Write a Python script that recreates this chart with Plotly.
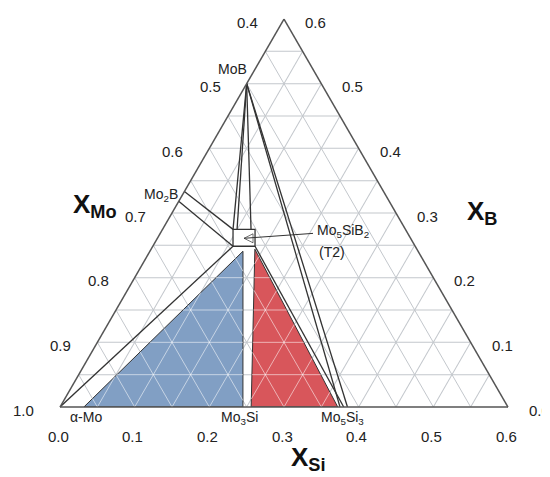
import plotly.graph_objects as go

# ---------------- data (mole fractions; Mo = 1 - Si - B) ----------------
# Ternary axes: a = B (top corner), b = Mo (bottom-left), c = Si (bottom-right)
grid_step_vals = [round(i * 0.05, 2) for i in range(13)]          # 0 .. 0.6
tick_fracs = [0.0, 0.1, 0.2, 0.3, 0.4, 0.5, 0.6]
mo_tick_labels = ["1.0", "0.9", "0.8", "0.7", "0.6", "0.5", "0.4"]   # left edge, bottom -> top
si_tick_labels = ["0.0", "0.1", "0.2", "0.3", "0.4", "0.5", "0.6"]   # bottom edge, left -> right
b_tick_labels = ["0.0", "0.1", "0.2", "0.3", "0.4", "0.5", "0.6"]    # right edge, bottom -> top

# Three-phase region Mo_ss + Mo3Si + T2 (blue)
blue_si = [0.032, 0.245, 0.1246]
blue_b = [0.0, 0.0, 0.2409]
# Three-phase region Mo3Si + Mo5Si3 + T2 (red)
red_si = [0.256, 0.372, 0.139]
red_b = [0.0, 0.0, 0.244]
# T2 homogeneity box
t2_si = [0.1074, 0.1369, 0.1239, 0.0944, 0.1074]
t2_b = [0.2486, 0.2486, 0.2747, 0.2747, 0.2486]

# tie lines (start Si, start B, end Si, end B)
tie_start_si = [0.0, 0.0, 0.0, 0.0, 0.0, 0.0, 0.0, 0.0, 0.1369]
tie_start_b = [0.0, 0.3333, 0.318, 0.5, 0.5, 0.5, 0.5, 0.5, 0.2486]
tie_end_si = [0.1074, 0.0944, 0.1074, 0.0944, 0.0998, 0.1185, 0.375, 0.385, 0.380]
tie_end_b = [0.2486, 0.2747, 0.2486, 0.2747, 0.2747, 0.2747, 0.0, 0.0, 0.0]

# phase labels: text, anchor Si, anchor B
phase_text = ["MoB", "Mo<sub>2</sub>B", "\u03b1-Mo", "Mo<sub>3</sub>Si", "Mo<sub>5</sub>Si<sub>3</sub>",
              "Mo<sub>5</sub>SiB<sub>2</sub>", "(T2)"]
phase_si = [0.0, 0.0, 0.035, 0.241, 0.379, 0.2046, 0.2232]
phase_b = [0.5, 0.3333, 0.0, 0.0, 0.0, 0.2685, 0.2394]

# arrow from label to T2 box
arrow_si = [0.2046, 0.1160]
arrow_b = [0.2685, 0.2609]

LINE = "#333333"
FONT = "Arial, Liberation Sans, sans-serif"
W, H = 550, 477
TRI_L, TRI_R, TRI_BOTTOM = 52, 500, 399          # triangle placement in pixels
TRI_H = (TRI_R - TRI_L) * 3 ** 0.5 / 2
SPAN = 0.6                                        # displayed composition span


def mo_of(si, b):
    return [None if s is None else 1 - s - x for s, x in zip(si, b)]


def to_paper(si, b):
    """composition -> paper coords of the ternary subplot (same domain as below)"""
    px = TRI_L + (si + b / 2) / SPAN * (TRI_R - TRI_L)
    py = TRI_BOTTOM - b / SPAN * TRI_H
    return px / W, 1 - py / H


def clip_segment(p0, p1, poly):
    """clip segment p0-p1 (Si, B) to a convex polygon"""
    n = len(poly)
    area = sum(poly[i][0] * poly[(i + 1) % n][1] - poly[(i + 1) % n][0] * poly[i][1] for i in range(n))
    sgn = 1 if area > 0 else -1
    d = (p1[0] - p0[0], p1[1] - p0[1])
    t0, t1 = 0.0, 1.0
    for i in range(n):
        a, b = poly[i], poly[(i + 1) % n]
        e = (b[0] - a[0], b[1] - a[1])
        f0 = sgn * (e[0] * (p0[1] - a[1]) - e[1] * (p0[0] - a[0]))
        fd = sgn * (e[0] * d[1] - e[1] * d[0])
        if abs(fd) < 1e-12:
            if f0 < 0:
                return None
            continue
        t = -f0 / fd
        if fd > 0:
            t0 = max(t0, t)
        else:
            t1 = min(t1, t)
    if t1 - t0 < 1e-6:
        return None
    return ((p0[0] + t0 * d[0], p0[1] + t0 * d[1]), (p0[0] + t1 * d[0], p0[1] + t1 * d[1]))


# the three families of grid lines as (Si, B) segments
grid_segments = []
for v in grid_step_vals[1:-1]:
    grid_segments.append(((0.0, v), (SPAN - v, v)))      # constant B
    grid_segments.append(((v, 0.0), (v, SPAN - v)))      # constant Si
    grid_segments.append(((v, 0.0), (0.0, v)))           # constant Mo

fig = go.Figure()

# filled regions, with the grid shown faintly through them
for si, b, col in [(blue_si, blue_b, "#819fc4"), (red_si, red_b, "#d8565b")]:
    fig.add_trace(go.Scatterternary(
        a=b + b[:1], b=mo_of(si, b) + mo_of(si, b)[:1], c=si + si[:1],
        mode="lines", fill="toself", fillcolor=col,
        line=dict(color=LINE, width=1), hoverinfo="skip", showlegend=False))
    poly = list(zip(si, b))
    gs, gb = [], []
    for p0, p1 in grid_segments:
        seg = clip_segment(p0, p1, poly)
        if seg:
            gs += [seg[0][0], seg[1][0], None]
            gb += [seg[0][1], seg[1][1], None]
    fig.add_trace(go.Scatterternary(
        a=gb, b=mo_of(gs, gb), c=gs, mode="lines", connectgaps=False,
        line=dict(color="rgba(255,255,255,0.55)", width=1), hoverinfo="skip", showlegend=False))

# T2 box
fig.add_trace(go.Scatterternary(
    a=t2_b, b=mo_of(t2_si, t2_b), c=t2_si, mode="lines", fill="toself", fillcolor="white",
    line=dict(color=LINE, width=1.3), hoverinfo="skip", showlegend=False))

# tie lines
for s0, b0, s1, b1 in zip(tie_start_si, tie_start_b, tie_end_si, tie_end_b):
    fig.add_trace(go.Scatterternary(
        a=[b0, b1], b=mo_of([s0, s1], [b0, b1]), c=[s0, s1], mode="lines",
        line=dict(color=LINE, width=1.3), hoverinfo="skip", showlegend=False))

# arrow
fig.add_trace(go.Scatterternary(
    a=arrow_b, b=mo_of(arrow_si, arrow_b), c=arrow_si, mode="lines+markers",
    line=dict(color=LINE, width=1),
    marker=dict(symbol=["circle", "arrow-left-open"], size=[0, 9], color=LINE,
                line=dict(color=LINE, width=1)),
    hoverinfo="skip", showlegend=False, cliponaxis=False))


def axis(minv, vals):
    return dict(min=minv, tickmode="array", tickvals=vals, showticklabels=False, ticks="",
                showgrid=True, gridcolor="#c3c7cc", gridwidth=1,
                showline=True, linecolor="#555555", linewidth=1.5, title=dict(text=""))


b_vals = grid_step_vals                                   # B grid
mo_vals = [round(0.4 + v, 2) for v in grid_step_vals]     # Mo grid
si_vals = grid_step_vals                                  # Si grid

tick_font = dict(family=FONT, size=15, color="#222")
annotations = []
for f, lab in zip(tick_fracs, mo_tick_labels):            # left edge (Si = 0)
    x, y = to_paper(0.0, f)
    annotations.append(dict(text=lab, x=x, y=y, xref="paper", yref="paper", showarrow=False,
                            xanchor="right", yanchor="middle", xshift=-24, yshift=-3, font=tick_font))
for f, lab in zip(tick_fracs, si_tick_labels):            # bottom edge (B = 0)
    x, y = to_paper(f, 0.0)
    annotations.append(dict(text=lab, x=x, y=y, xref="paper", yref="paper", showarrow=False,
                            xanchor="center", yanchor="middle", xshift=-2, yshift=-29, font=tick_font))
for f, lab in zip(tick_fracs, b_tick_labels):             # right edge (Mo = 0.4)
    x, y = to_paper(SPAN - f, f)
    annotations.append(dict(text=lab, x=x, y=y, xref="paper", yref="paper", showarrow=False,
                            xanchor="left", yanchor="middle", xshift=19, yshift=-3, font=tick_font))

# phase labels anchored at their compositions
phase_anchor = [("right", "bottom", 2, 5), ("right", "middle", -4, -4), ("center", "top", 0, 0),
                ("center", "top", 0, 0), ("center", "top", 0, 0), ("left", "middle", 2, 2),
                ("left", "middle", 1, 0)]
label_font = dict(family=FONT, size=14, color="#222")
for txt, s, b, (xa, ya, dx, dy) in zip(phase_text, phase_si, phase_b, phase_anchor):
    x, y = to_paper(s, b)
    annotations.append(dict(text=txt, x=x, y=y, xref="paper", yref="paper", showarrow=False,
                            xanchor=xa, yanchor=ya, xshift=dx, yshift=dy, font=label_font))

title_font = dict(family=FONT, size=26, color="#111")
for txt, px, py in [("<b>X<sub>Mo</sub></b>", 87, 197), ("<b>X<sub>B</sub></b>", 474, 204),
                    ("<b>X<sub>Si</sub></b>", 300, 450)]:
    annotations.append(dict(text=txt, x=px / W, y=1 - py / H, xref="paper", yref="paper",
                            xanchor="center", yanchor="middle", showarrow=False, font=title_font))

fig.update_layout(
    width=W, height=H,
    margin=dict(l=0, r=0, t=0, b=0),
    paper_bgcolor="white",
    ternary=dict(
        sum=1,
        domain=dict(x=[TRI_L / W, TRI_R / W], y=[(H - TRI_BOTTOM) / H, (H - TRI_BOTTOM + TRI_H) / H]),
        bgcolor="white",
        aaxis=axis(0, b_vals),
        baxis=axis(0.4, mo_vals),
        caxis=axis(0, si_vals),
    ),
    annotations=annotations,
)

fig.write_html("out.html")
